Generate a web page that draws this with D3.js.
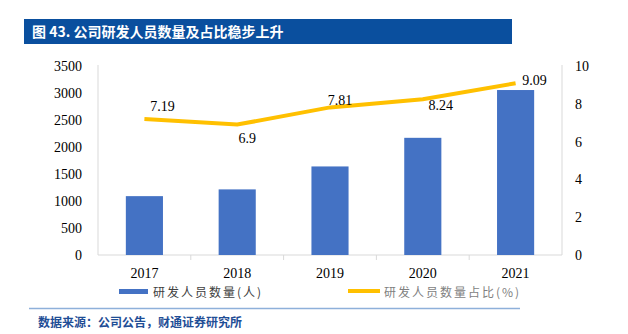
<!DOCTYPE html>
<html lang="zh">
<head>
<meta charset="utf-8">
<title>公司研发人员数量及占比</title>
<script src="https://d3js.org/d3.v7.min.js"></script>
<style>
body{margin:0;background:#fff;}
</style>
</head>
<body>
<div id="chart"></div>
<script>
// data
var years = ["2017","2018","2019","2020","2021"]
var staff = [1090, 1215, 1640, 2170, 3055]
var ratio = [7.19, 6.9, 7.81, 8.24, 9.09]
var leftTicks = [0,500,1000,1500,2000,2500,3000,3500]
var rightTicks = [0,2,4,6,8,10]

var w = 628, h = 334
// plot box (note: "top" is reserved on window, so use pTop etc.)
var pLeft = 98, pRight = 562, pTop = 66, pBottom = 255

var svg = d3.select("#chart").append("svg")
    .attr("width", w).attr("height", h)

// title bar
svg.append("rect").attr("x",24).attr("y",19).attr("width",488).attr("height",25)
    .attr("fill","#0a4f9e")
svg.append("text").attr("x",32).attr("y",37)
    .attr("font-family","Noto Sans CJK SC").attr("font-weight","bold")
    .attr("font-size",14).attr("fill","#fff")
    .text("图 43.  公司研发人员数量及占比稳步上升")

var x = d3.scaleBand().domain(years).range([pLeft,pRight]).paddingInner(0.6).paddingOuter(0.3)
var xb = d3.scaleBand().domain(years).range([pLeft,pRight])
var y = d3.scaleLinear().domain([0,3500]).range([pBottom,pTop])
var y2 = d3.scaleLinear().domain([0,10]).range([pBottom,pTop])

// axes lines
svg.append("line").attr("x1",pLeft).attr("x2",pLeft).attr("y1",pTop-1).attr("y2",pBottom)
    .attr("stroke","#d9d9d9")
svg.append("line").attr("x1",pRight).attr("x2",pRight).attr("y1",pTop-1).attr("y2",pBottom)
    .attr("stroke","#d9d9d9")
svg.append("line").attr("x1",pLeft).attr("x2",pRight).attr("y1",pBottom).attr("y2",pBottom)
    .attr("stroke","#d9d9d9")
svg.selectAll(".xtick").data(years.slice(1)).enter().append("line")
    .attr("x1",function(d){return xb(d)}).attr("x2",function(d){return xb(d)})
    .attr("y1",pBottom).attr("y2",pBottom+5).attr("stroke","#d9d9d9")

var serif = "Liberation Serif"
svg.selectAll(".yl").data(leftTicks).enter().append("text")
    .attr("x",82).attr("y",function(d){return y(d)+5})
    .attr("text-anchor","end").attr("font-family",serif).attr("font-size",14)
    .attr("fill","#000").text(function(d){return d})
svg.selectAll(".yr").data(rightTicks).enter().append("text")
    .attr("x",575).attr("y",function(d){return y2(d)+5})
    .attr("font-family",serif).attr("font-size",14)
    .attr("fill","#000").text(function(d){return d})
svg.selectAll(".xl").data(years).enter().append("text")
    .attr("x",function(d){return xb(d)+xb.bandwidth()/2}).attr("y",278)
    .attr("text-anchor","middle").attr("font-family",serif).attr("font-size",14)
    .attr("fill","#000").text(function(d){return d})

// bars
svg.selectAll(".bar").data(staff).enter().append("rect")
    .attr("x",function(d,i){return x(years[i])})
    .attr("width",x.bandwidth())
    .attr("y",function(d){return y(d)})
    .attr("height",function(d){return pBottom-y(d)})
    .attr("fill","#4472c4")

// line
var line = d3.line()
    .x(function(d,i){return xb(years[i])+xb.bandwidth()/2})
    .y(function(d){return y2(d)})
svg.append("path").datum(ratio).attr("d",line)
    .attr("fill","none").attr("stroke","#ffc000").attr("stroke-width",4)

// label nudges, as placed in the original
var labDx = [18,10,10,18,19]
var labDy = [-8,18,-2,11,2]
svg.selectAll(".lab").data(ratio).enter().append("text")
    .attr("x",function(d,i){return xb(years[i])+xb.bandwidth()/2 + labDx[i]})
    .attr("y",function(d,i){return y2(d)+labDy[i]})
    .attr("text-anchor","middle").attr("font-family",serif).attr("font-size",14)
    .attr("fill","#000").text(function(d){return d})

// legend
svg.append("rect").attr("x",119).attr("y",289).attr("width",29).attr("height",5).attr("fill","#4472c4")
svg.append("text").attr("x",153).attr("y",297).attr("font-family","Noto Sans CJK SC")
    .attr("font-size",12).attr("letter-spacing",2).attr("fill","#404040").text("研发人员数量(人)")
svg.append("line").attr("x1",348).attr("x2",380).attr("y1",291).attr("y2",291)
    .attr("stroke","#ffc000").attr("stroke-width",4)
svg.append("text").attr("x",384).attr("y",297).attr("font-family","Noto Sans CJK SC")
    .attr("font-size",12).attr("letter-spacing",2).attr("fill","#7f7f7f").text("研发人员数量占比(%)")

// source
svg.append("line").attr("x1",29).attr("x2",520).attr("y1",308.5).attr("y2",308.5)
    .attr("stroke","#8eb0da").attr("stroke-width",1.5)
svg.append("text").attr("x",38).attr("y",327).attr("font-family","Noto Sans CJK SC")
    .attr("font-weight","bold").attr("font-size",12).attr("fill","#1f4e96")
    .text("数据来源：公司公告，财通证券研究所")
</script>
</body>
</html>
